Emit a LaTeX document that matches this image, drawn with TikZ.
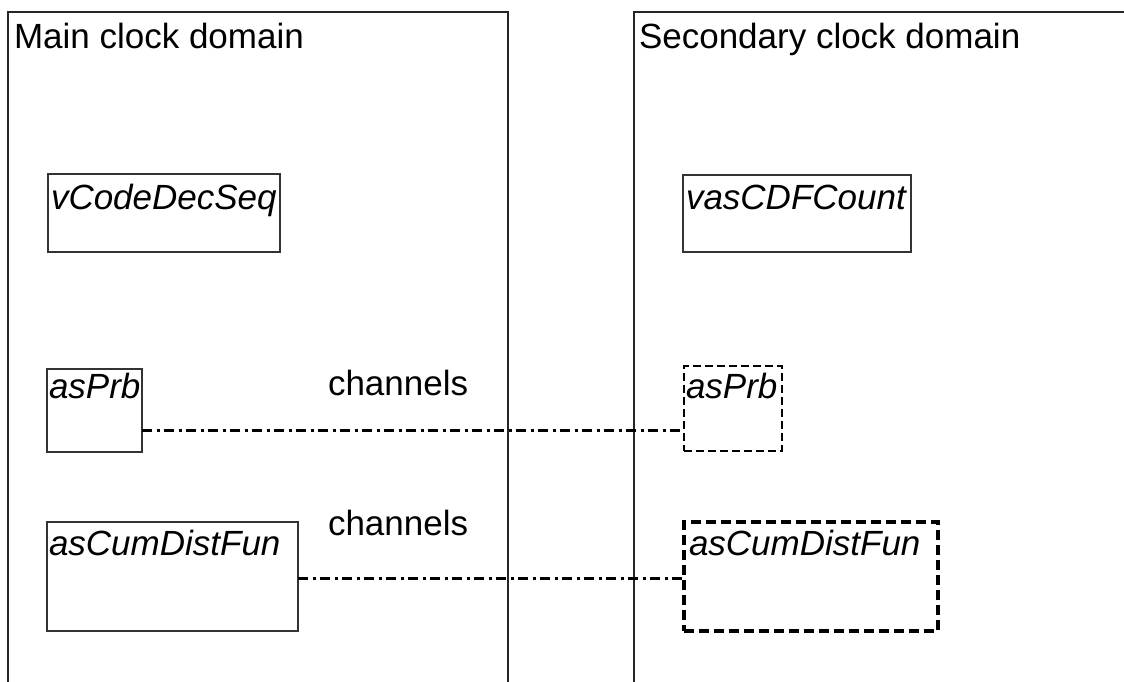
\documentclass[tikz,border=0pt]{standalone}
\usepackage{fontspec}
\setmainfont{Liberation Sans}
\begin{document}
\begin{tikzpicture}[x=1pt,y=-1pt,
  every node/.style={inner sep=0pt,outer sep=0pt},
  lbl/.style={font=\fontsize{35}{40}\selectfont, anchor=base west},
  ilbl/.style={font=\fontsize{35}{40}\selectfont\itshape, anchor=base west},
  clkdomain/.style={draw=black!85, line width=1.3pt},
  solidbox/.style={draw=black!80, line width=1.3pt, anchor=north west},
  thinbox/.style={draw=black, line width=2.7pt, dash pattern=on 8pt off 4pt, anchor=north west},
  thickbox/.style={draw=black, line width=3.5pt, dash pattern=on 10pt off 5pt, anchor=north west},
  chan/.style={draw=black, line width=3pt, dash pattern=on 10pt off 4.5pt on 3pt off 4.5pt}
]
\useasboundingbox[fill=white] (0,0) rectangle (1124,682);
\clip (0,0) rectangle (1124,682);
% domains
\coordinate (m1) at (8,700); \coordinate (m2) at (8,12); \coordinate (m3) at (508,12); \coordinate (m4) at (508,700);
\draw[clkdomain] (m1) -- (m2) -- (m3) -- (m4);
\coordinate (s1) at (634,700); \coordinate (s2) at (634,12); \coordinate (s3) at (1140,12);
\draw[clkdomain] (s1) -- (s2) -- (s3);
\node[lbl] (tmain) at (14,49) {Main clock domain};
\node[lbl] (tsec) at (639,49) {Secondary clock domain};
% boxes left
\node[solidbox, minimum width=232pt, minimum height=78pt] (vc) at (48,174) {};
\node[ilbl] (vct) at ([xshift=3pt,yshift=-35pt]vc.north west) {vCodeDecSeq};
\node[solidbox, minimum width=95pt, minimum height=83pt] (lp) at (47,369) {};
\node[ilbl] (lpt) at ([xshift=2pt,yshift=-29pt]lp.north west) {asPrb};
\node[solidbox, minimum width=251pt, minimum height=109pt] (lc) at (47,522) {};
\node[ilbl] (lct) at ([xshift=2pt,yshift=-33pt]lc.north west) {asCumDistFun};
% boxes right
\node[solidbox, minimum width=228pt, minimum height=77pt] (va) at (683,175) {};
\node[ilbl] (vat) at ([xshift=3pt,yshift=-34pt]va.north west) {vasCDFCount};
\node[thinbox, minimum width=98pt, minimum height=85pt] (rp) at (684,366) {};
\node[ilbl] (rpt) at ([xshift=2pt,yshift=-32pt]rp.north west) {asPrb};
\node[thickbox, minimum width=254pt, minimum height=109pt] (rc) at (684,522) {};
\node[ilbl] (rct) at ([xshift=5pt,yshift=-33pt]rc.north west) {asCumDistFun};
% channels
\node[lbl] (ch1) at (328,395) {channels};
\node[lbl] (ch2) at (328,535) {channels};
\draw[chan] ([yshift=-19.5pt]lp.east) -- ([yshift=-21.5pt]rp.west);
\draw[chan] ([yshift=-1.5pt]lc.east) -- ([yshift=-1.5pt]rc.west);
\end{tikzpicture}
\end{document}
